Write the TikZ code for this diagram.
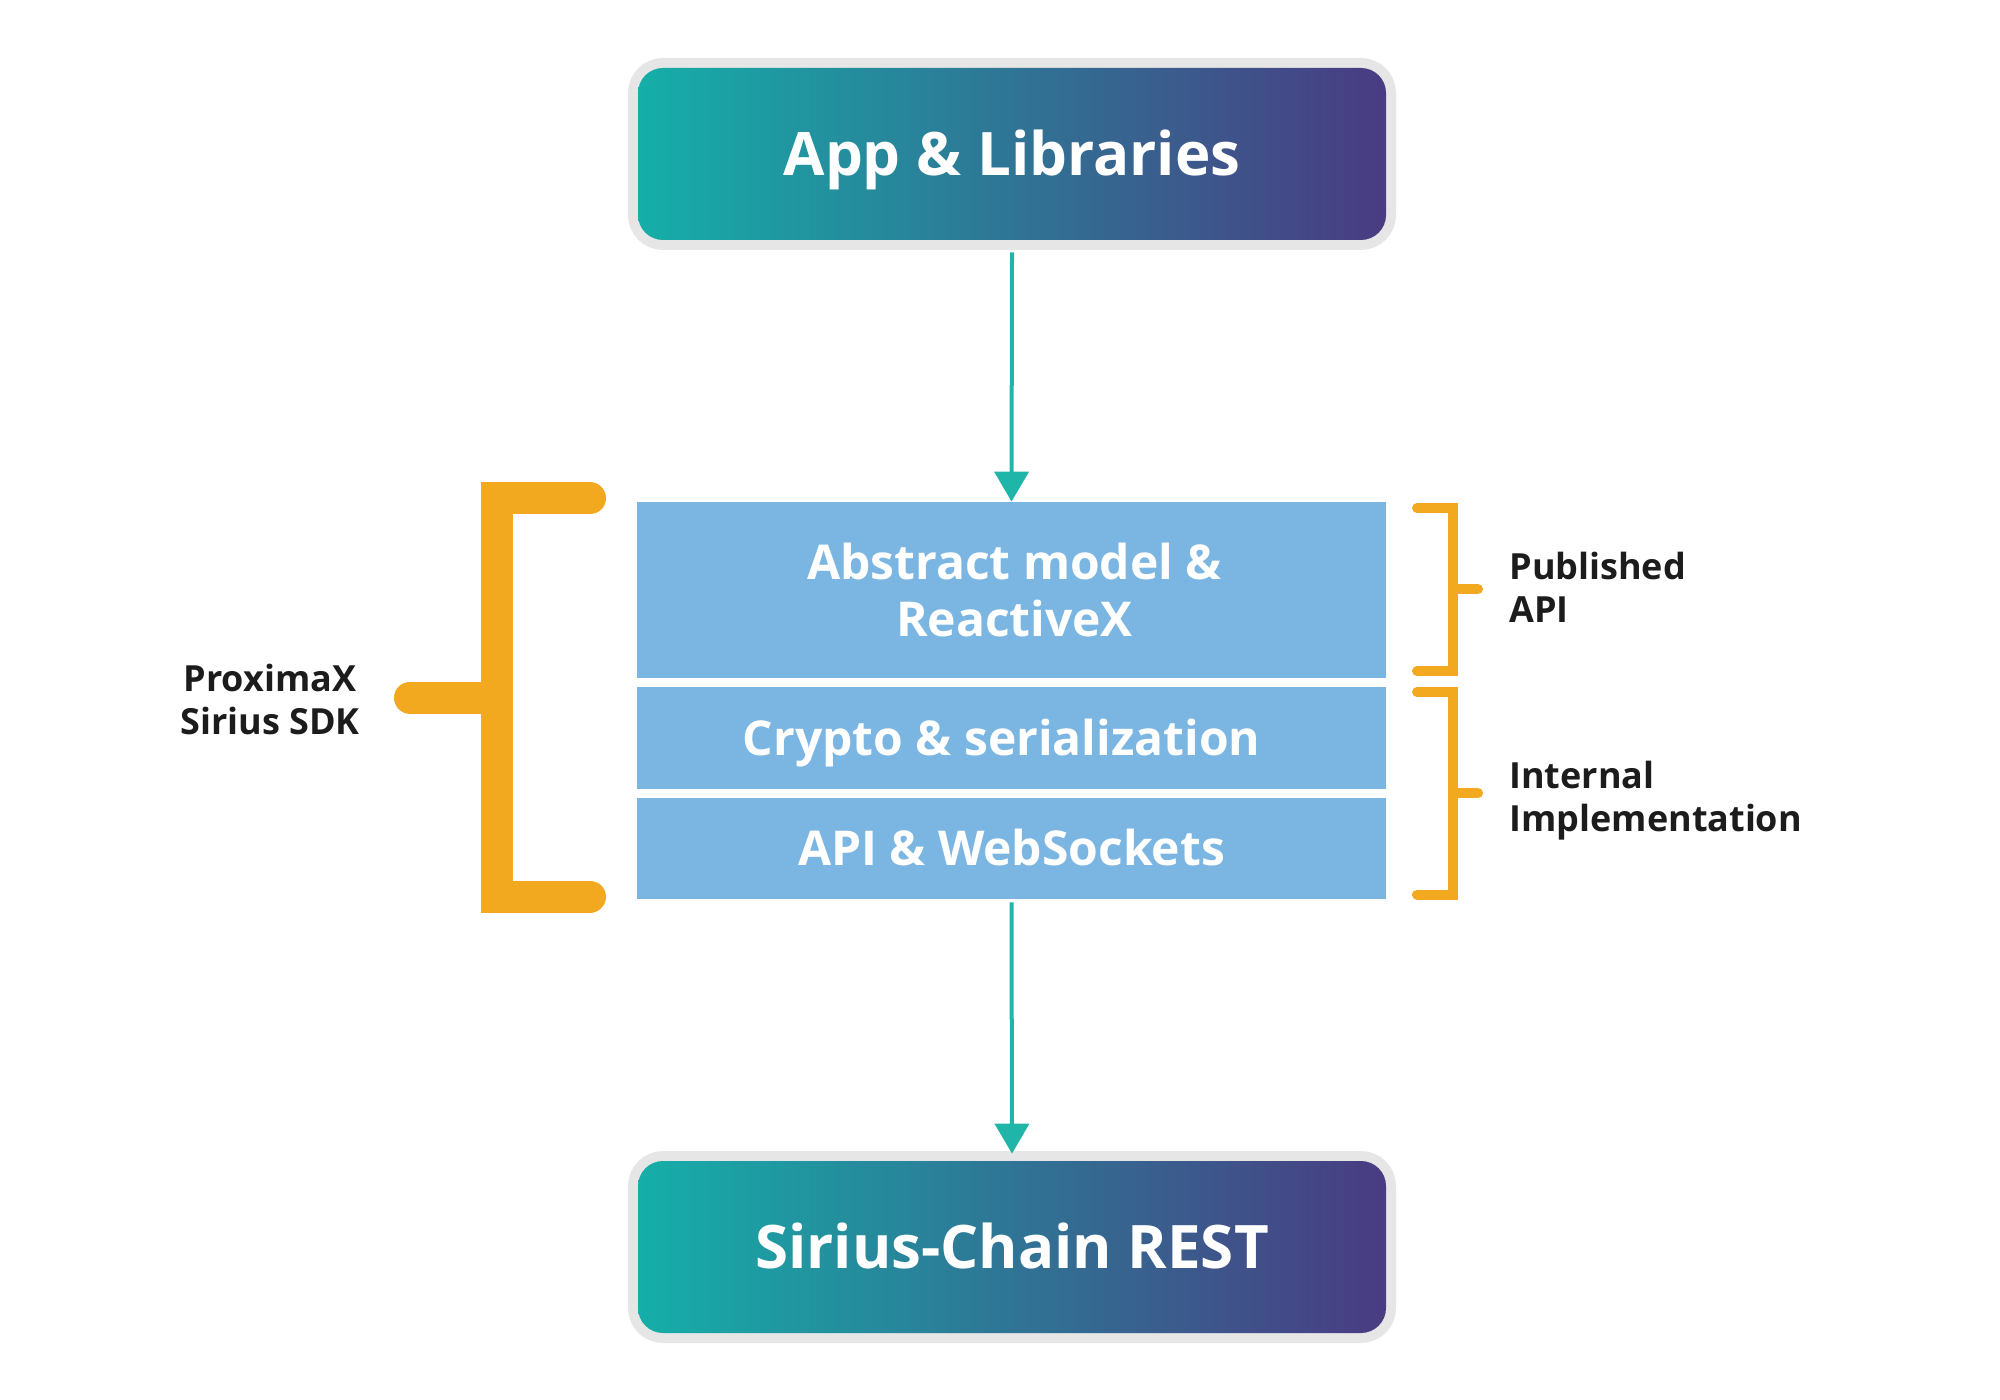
\documentclass[tikz,border=0pt]{standalone}
\usepackage{fontspec}
\setmainfont{Open Sans}
\usetikzlibrary{arrows.meta}
\definecolor{gteal}{HTML}{15AEA8}
\definecolor{gpurple}{HTML}{4A3B82}
\definecolor{bordergrey}{HTML}{E6E6E6}
\definecolor{layerblue}{HTML}{7BB6E3}
\definecolor{bracketorange}{HTML}{F2A91F}
\definecolor{arrowteal}{HTML}{1FB5A9}
\definecolor{labeltext}{HTML}{1C1C1C}
\begin{document}
\begin{tikzpicture}[x=0.5pt,y=-0.5pt,
 gradbox/.style={shade, left color=gteal, right color=gpurple, rounded corners=12.5pt,
   minimum width=374pt, minimum height=86pt, inner sep=0pt, text=white,
   text height=21.4pt, text depth=0pt,
   font=\bfseries\fontsize{30}{36}\selectfont,
   preaction={draw=bordergrey, line width=10pt}},
 layer/.style={fill=layerblue, minimum width=374.5pt, inner sep=0pt, text=white,
   align=center, font=\bfseries\fontsize{24}{28.5}\selectfont},
 oneline/.style={text height=17.1pt, text depth=0pt},
 flow/.style={draw=arrowteal, line width=2pt, -{Triangle[width=17pt,length=15pt]}},
 bigbracket/.style={draw=bracketorange, line width=16pt, line cap=round, line join=miter},
 smallbracket/.style={draw=bracketorange, line width=5pt, line cap=round, line join=miter},
 sidelabel/.style={text=labeltext, inner sep=0pt, font=\bfseries\fontsize{18}{21.5}\selectfont}
]
\useasboundingbox (0,0) rectangle (2000,1400);

% main stack
\node[gradbox] (app) at (1012,154) {App \& Libraries};
\node[layer, minimum height=88pt] (abs) at (1011.5,590) {\hspace*{3pt}Abstract model \&\\\hspace*{3pt}ReactiveX};
\node[layer, oneline, minimum height=51pt] (cry) at (1011.5,738) {\hspace*{-10pt}Crypto \& serialization};
\node[layer, oneline, minimum height=50.5pt] (ws) at (1011.5,848.5) {API \& WebSockets};
\node[gradbox] (rest) at (1012,1247) {Sirius-Chain REST};

% connectors
\draw[flow] ([yshift=-6pt]app.south) -- (abs.north);
\draw[flow] ([yshift=-1.5pt]ws.south) -- ([yshift=3.5pt]rest.north);

% left big bracket
\draw[bigbracket] (590,498.5) -- (497,498.5) -- (497,896.5) -- (590,896.5);
\draw[bigbracket] (410,697.5) -- (497,697.5);
\node[sidelabel, align=center] (sdk) at (270,699.5) {ProximaX\\Sirius SDK};

% right brackets
\draw[smallbracket] (1417,508) -- (1453,508) -- (1453,671) -- (1417,671);
\draw[smallbracket] (1453,589) -- (1478,589);
\draw[smallbracket] (1417,692) -- (1453,692) -- (1453,894.5) -- (1417,894.5);
\draw[smallbracket] (1453,793) -- (1478,793);

\node[sidelabel, align=left, anchor=west] (pub) at (1509,587) {Published\\API};
\node[sidelabel, align=left, anchor=west] (int) at (1509,801) {Internal\\Implementation};
\end{tikzpicture}
\end{document}
